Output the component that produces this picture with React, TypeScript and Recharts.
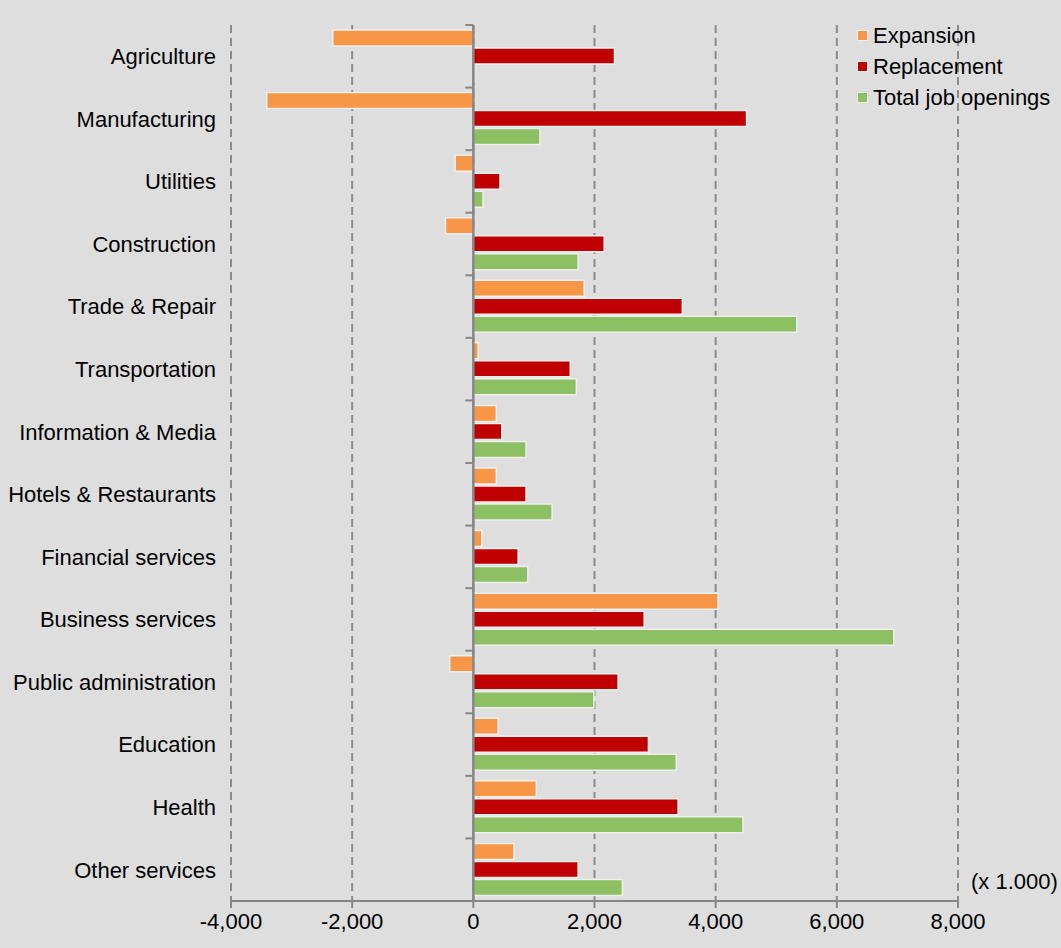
import { BarChart, Bar, XAxis, YAxis, CartesianGrid, Legend, ReferenceLine } from 'recharts';

const categories = [
  'Agriculture',
  'Manufacturing',
  'Utilities',
  'Construction',
  'Trade & Repair',
  'Transportation',
  'Information & Media',
  'Hotels & Restaurants',
  'Financial services',
  'Business services',
  'Public administration',
  'Education',
  'Health',
  'Other services',
];
const expansion = [-2320, -3410, -300, -460, 1830, 80, 380, 380, 140, 4040, -390, 410, 1040, 670];
const replacement = [2330, 4510, 440, 2160, 3450, 1600, 470, 870, 740, 2820, 2390, 2890, 3380, 1730];
const totalOpenings = [20, 1100, 160, 1730, 5340, 1700, 870, 1300, 900, 6940, 1990, 3350, 4450, 2460];
const xTicks = [-4000, -2000, 0, 2000, 4000, 6000, 8000];

const data = categories.map((name, i) => ({
  name,
  expansion: expansion[i],
  replacement: replacement[i],
  total: totalOpenings[i],
}));

const FONT = '"Liberation Sans", Arial, sans-serif';
const AXIS_GRAY = '#868686';

function ZeroAxis(props: any) {
  const { x1, y1, y2 } = props;
  const top = Math.min(y1, y2);
  const bottom = Math.max(y1, y2);
  const band = (bottom - top) / categories.length;
  const marks = [];
  for (let k = 0; k <= categories.length; k++) {
    const y = top + k * band;
    marks.push(<line key={k} x1={x1 - 8} x2={x1} y1={y} y2={y} stroke={AXIS_GRAY} strokeWidth={2} />);
  }
  return (
    <g>
      <line x1={x1} x2={x1} y1={top} y2={bottom} stroke={AXIS_GRAY} strokeWidth={2.5} />
      {marks}
    </g>
  );
}

function LegendBox({ payload }: any) {
  return (
    <div style={{ fontFamily: FONT, fontSize: 22, color: '#000' }}>
      {(payload || []).map((p: any) => (
        <div key={p.value} style={{ display: 'flex', alignItems: 'center', height: 31 }}>
          <span style={{ width: 9, height: 9, background: p.color, boxShadow: '0 0 0 1px #f0f0f0', marginRight: 6 }} />
          <span>{p.value}</span>
        </div>
      ))}
    </div>
  );
}

export default function App() {
  return (
    <div style={{ position: 'absolute', left: 0, top: 0, width: 1061, height: 948, background: '#dedede', fontFamily: FONT }}>
      <BarChart
        width={1061}
        height={948}
        data={data}
        layout="vertical"
        margin={{ top: 25, right: 103, bottom: 0, left: 0 }}
        barSize={16}
        barGap={2}
      >
        <CartesianGrid horizontal={false} stroke="#8c8c8c" strokeWidth={2} strokeDasharray="8 5" />
        <XAxis
          type="number"
          domain={[-4000, 8000]}
          ticks={xTicks}
          height={47}
          tickFormatter={(v: number) => v.toLocaleString('en-US')}
          tick={{ fontSize: 22, fill: '#000', fontFamily: FONT }}
          axisLine={{ stroke: AXIS_GRAY, strokeWidth: 2 }}
          tickLine={{ stroke: AXIS_GRAY, strokeWidth: 2 }}
          tickSize={7}
          tickMargin={5}
        />
        <YAxis
          type="category"
          dataKey="name"
          width={231}
          axisLine={false}
          tickLine={false}
          tickSize={6}
          tickMargin={9}
          interval={0}
          tick={{ fontSize: 22, fill: '#000', fontFamily: FONT }}
        />
        <Legend
          layout="vertical"
          align="center"
          verticalAlign="middle"
          wrapperStyle={{ top: 20, left: 858, width: 210 }}
          content={<LegendBox />}
        />
        <Bar dataKey="expansion" name="Expansion" fill="#f79646" stroke="#efefef" strokeWidth={1.5} isAnimationActive={false} />
        <Bar dataKey="replacement" name="Replacement" fill="#c00000" stroke="#efefef" strokeWidth={1.5} isAnimationActive={false} />
        <Bar dataKey="total" name="Total job openings" fill="#8cc063" stroke="#efefef" strokeWidth={1.5} isAnimationActive={false} />
        <ReferenceLine x={0} shape={<ZeroAxis />} />
      </BarChart>
      <div style={{ position: 'absolute', left: 971, top: 870, fontSize: 22, lineHeight: '24px', color: '#000' }}>(x 1.000)</div>
    </div>
  );
}
